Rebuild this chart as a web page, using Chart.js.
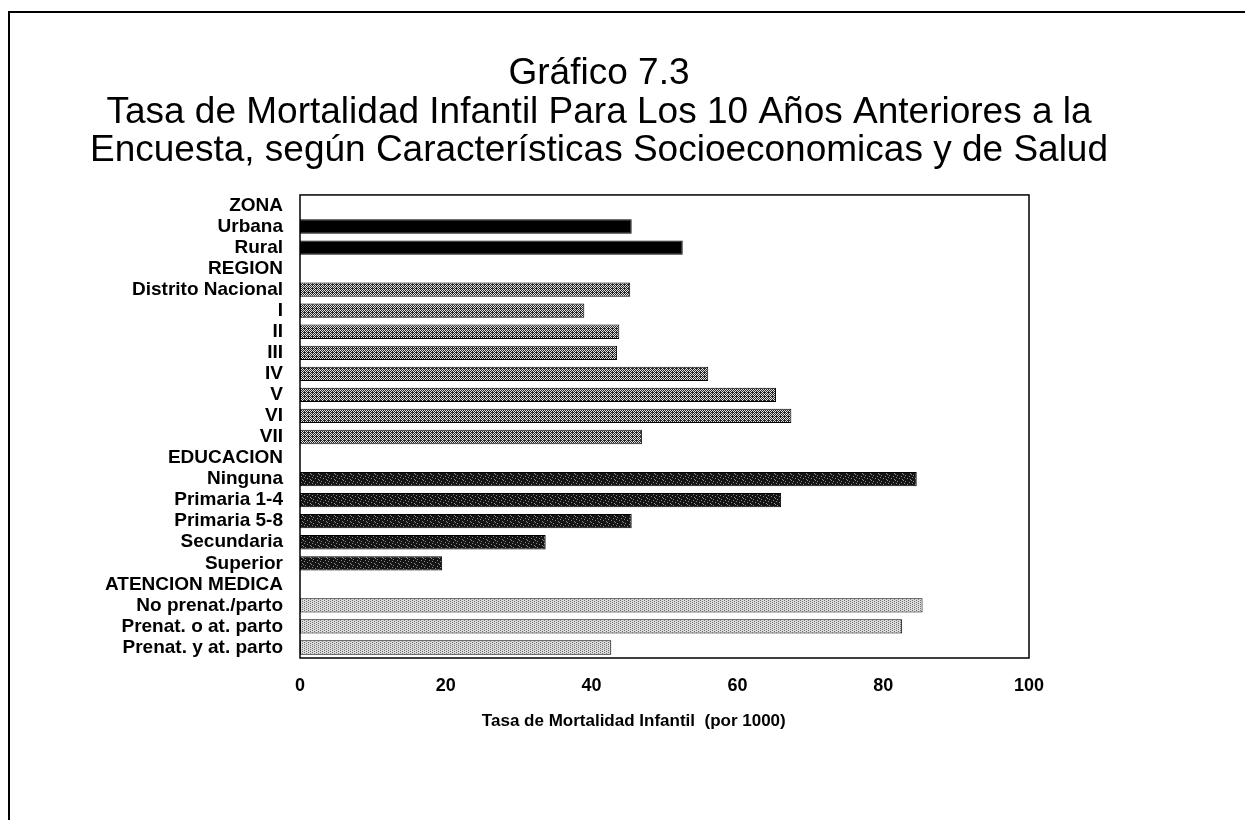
<!DOCTYPE html>
<html lang="es">
<head>
<meta charset="utf-8">
<title>Gráfico 7.3</title>
<script src="https://cdn.jsdelivr.net/npm/chart.js@4.4.1/dist/chart.umd.min.js"></script>
<style>
    html, body { margin: 0; padding: 0; background: #fff; }
    #wrap { position: relative; width: 1245px; height: 820px; overflow: hidden; }
    #frame { position: absolute; left: 8px; top: 11px; right: 0; bottom: 0;
             border-left: 2px solid #000; border-top: 2px solid #000; }
    #chart { position: absolute; left: 0; top: 0; }
</style>
</head>
<body>
<div id="wrap">
    <div id="frame"></div>
    <canvas id="chart" width="1245" height="820"></canvas>
</div>
<script>
// ===== Datos =====
const categories = [
    "ZONA", "Urbana", "Rural",
    "REGION", "Distrito Nacional", "I", "II", "III", "IV", "V", "VI", "VII",
    "EDUCACION", "Ninguna", "Primaria 1-4", "Primaria 5-8", "Secundaria", "Superior",
    "ATENCION MEDICA", "No prenat./parto", "Prenat. o at. parto", "Prenat. y at. parto"
];
const groups = [
    "titulo", "zona", "zona",
    "titulo", "region", "region", "region", "region", "region", "region", "region", "region",
    "titulo", "educacion", "educacion", "educacion", "educacion", "educacion",
    "titulo", "atencion", "atencion", "atencion"
];
const tasas = [
    null, 45.5, 52.5,
    null, 45.3, 39.0, 43.8, 43.5, 56.0, 65.3, 67.4, 46.9,
    null, 84.6, 66.0, 45.5, 33.7, 19.5,
    null, 85.4, 82.6, 42.7
];
const xTicks = [0, 20, 40, 60, 80, 100];

const tituloLineas = [
    "Gráfico 7.3",
    "Tasa de Mortalidad Infantil Para Los 10 Años Anteriores a la",
    "Encuesta, según Características Socioeconomicas y de Salud"
];
const ejeX = "Tasa de Mortalidad Infantil  (por 1000)";

// ===== Tramas de relleno (imitan el sombreado impreso) =====
function makePattern(w, h, base, dot, isDot) {
    const c = document.createElement("canvas");
    c.width = w;
    c.height = h;
    const g = c.getContext("2d");
    g.fillStyle = base;
    g.fillRect(0, 0, w, h);
    g.fillStyle = dot;
    for (let y = 0; y < h; y++) {
        for (let x = 0; x < w; x++) {
            if (isDot(x, y)) g.fillRect(x, y, 1, 1);
        }
    }
    return g.createPattern(c, "repeat");
}

const ctx = document.getElementById("chart").getContext("2d");
const speckles = ["1,1", "5,2", "3,4", "6,5", "0,3", "7,0"];
const fills = {
    titulo: "rgba(0,0,0,0)",
    zona: "#000000",
    region: makePattern(4, 4, "#262626", "#e0e0e0", (x, y) => (x + y) % 2 === 0 && !(x === 0 && y === 0)),
    educacion: makePattern(8, 6, "#141414", "#8c8c8c", (x, y) => speckles.includes(x + "," + y)),
    atencion: makePattern(4, 4, "#dcdcdc", "#6e6e6e", (x, y) => (x + 2 * y) % 4 === 0)
};

// ===== Marco del área de trazado =====
const plotBox = {
    id: "plotBox",
    afterDatasetsDraw(chart) {
        const a = chart.chartArea;
        const c = chart.ctx;
        c.save();
        c.strokeStyle = "#000";
        c.lineWidth = 1.5;
        c.strokeRect(a.left, a.top, a.right - a.left, a.bottom - a.top);
        c.restore();
    }
};

const FONT = "'Liberation Sans', Arial, Helvetica, sans-serif";

new Chart(ctx, {
    type: "bar",
    data: {
        labels: categories,
        datasets: [{
            data: tasas,
            backgroundColor: groups.map(g => fills[g]),
            borderColor: "#000",
            borderWidth: 1,
            borderSkipped: false,
            barPercentage: 0.68,
            categoryPercentage: 1.0
        }]
    },
    options: {
        indexAxis: "y",
        responsive: false,
        animation: false,
        layout: { padding: { left: 80, right: 127, top: 0, bottom: 0 } },
        plugins: {
            legend: { display: false },
            tooltip: { enabled: false },
            title: {
                display: true,
                text: tituloLineas,
                color: "#000",
                font: { family: FONT, size: 37, weight: "normal", lineHeight: 1.04 },
                padding: { top: 55, bottom: 24.5 }
            }
        },
        scales: {
            x: {
                min: 0,
                max: 100,
                afterFit: s => { s.height = 162; },
                afterBuildTicks: s => { s.ticks = xTicks.map(v => ({ value: v })); },
                grid: { display: false, drawTicks: false },
                border: { display: false },
                ticks: {
                    color: "#000",
                    padding: 17,
                    font: { family: FONT, size: 18, weight: "bold" }
                },
                title: {
                    display: true,
                    // espacios finales: el rótulo del original está algo a la izquierda del centro
                    text: ejeX + " ".repeat(13),
                    color: "#000",
                    font: { family: FONT, size: 17, weight: "bold" },
                    padding: { top: 0, bottom: 88 }
                }
            },
            y: {
                afterFit: s => { s.width = 220; },
                grid: { display: false, drawTicks: false },
                border: { display: false },
                ticks: {
                    color: "#000",
                    padding: 17,
                    autoSkip: false,
                    font: { family: FONT, size: 19, weight: "bold", lineHeight: 1 }
                }
            },
            // margen derecho vacío para que el título quede centrado como en el original
            margenDerecho: {
                type: "linear",
                position: "right",
                display: true,
                afterFit: s => { s.width = 89; },
                grid: { display: false, drawTicks: false },
                border: { display: false },
                ticks: { display: false }
            }
        }
    },
    plugins: [plotBox]
});
</script>
</body>
</html>
